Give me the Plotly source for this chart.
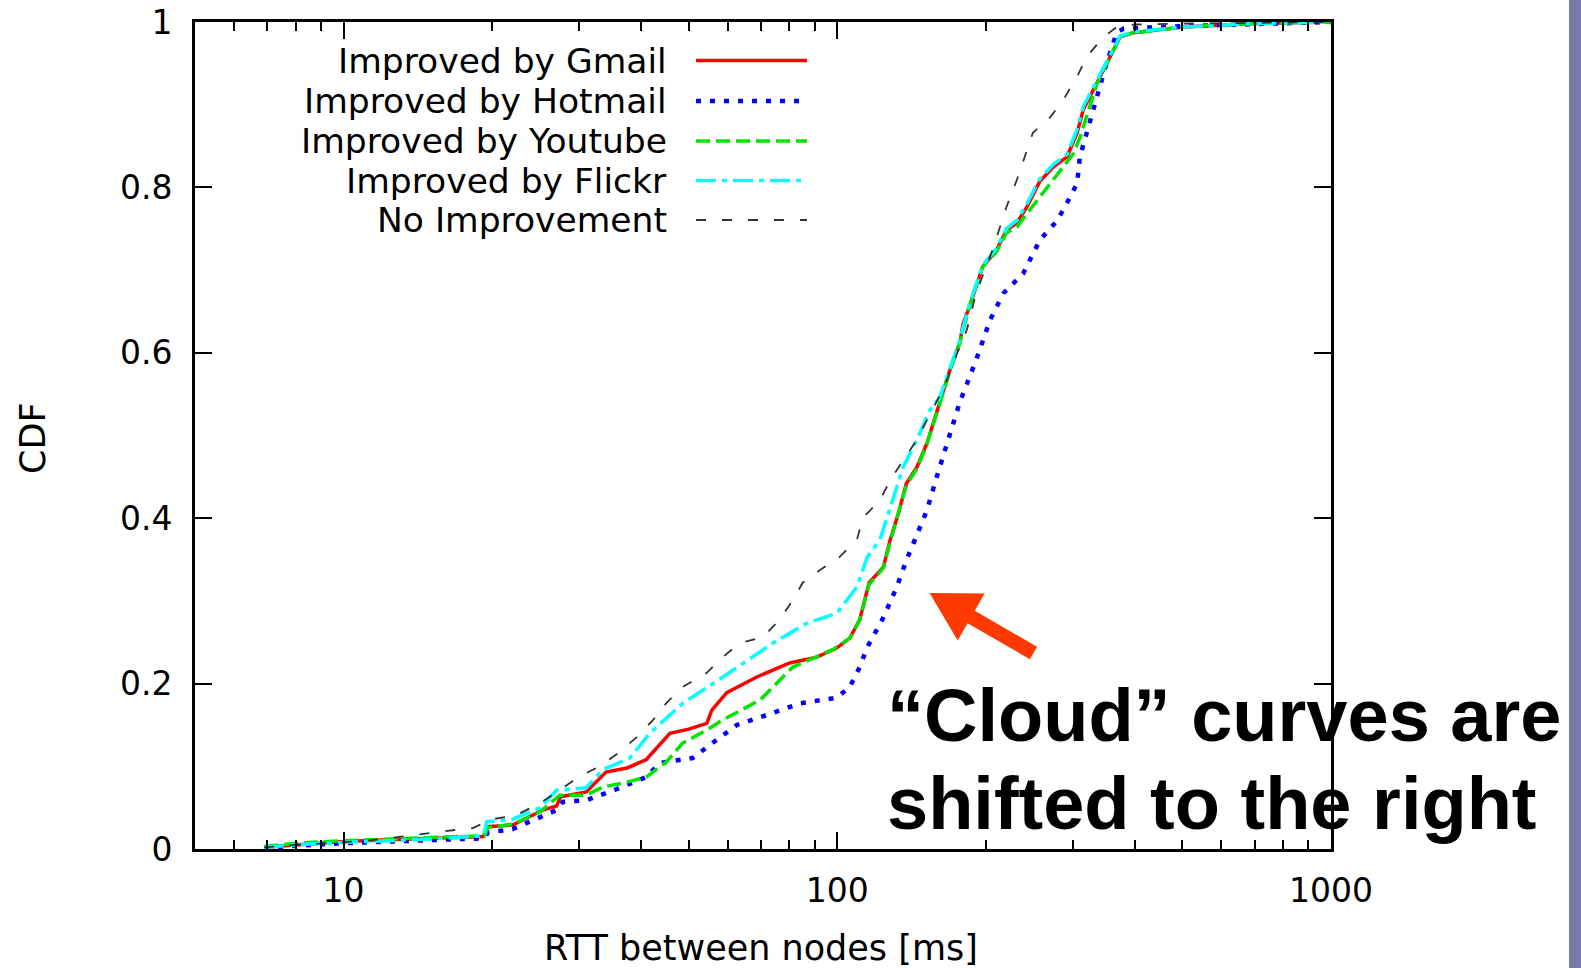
import plotly.graph_objects as go
import math

# ---------------- data ----------------
gmail_x = [6.9, 8, 10, 12, 15, 19.2, 19.5, 22, 25.3, 27, 27.5, 31, 34, 37.5, 41, 45.8, 50, 54.4, 55.7,
           59.7, 68.7, 80.1, 90.9, 99.7, 106, 111, 116, 124, 128, 133, 138, 145, 152, 161, 169, 177,
           180, 185, 197, 210, 220, 231, 242, 257, 274, 292, 306, 315, 336, 357, 374, 397, 502, 685, 1000]
gmail_y = [0.002, 0.005, 0.009, 0.011, 0.013, 0.015, 0.027, 0.029, 0.047, 0.052, 0.063, 0.069, 0.093,
           0.098, 0.108, 0.14, 0.145, 0.152, 0.168, 0.189, 0.208, 0.225, 0.232, 0.243, 0.255, 0.277,
           0.322, 0.341, 0.374, 0.406, 0.442, 0.462, 0.491, 0.539, 0.579, 0.612, 0.636, 0.655, 0.704,
           0.724, 0.748, 0.757, 0.776, 0.807, 0.825, 0.837, 0.866, 0.894, 0.926, 0.958, 0.982, 0.987,
           0.994, 0.998, 1.0]

hotmail_x = [6.9, 8, 10, 12, 15, 19.3, 19.6, 22, 23.8, 27, 27.8, 31, 35.6, 41, 43.7, 48, 50.9, 57,
             62.6, 71.9, 83.9, 99.8, 106, 111, 115, 124, 132, 138, 145, 152, 159, 167, 177, 191, 204,
             217, 238, 257, 279, 296, 306, 310, 320, 330, 341, 351, 368, 380, 500, 700, 1000]
hotmail_y = [0.001, 0.004, 0.007, 0.009, 0.011, 0.013, 0.02, 0.024, 0.033, 0.047, 0.057, 0.059, 0.072,
             0.087, 0.104, 0.108, 0.11, 0.132, 0.15, 0.162, 0.176, 0.183, 0.196, 0.22, 0.244, 0.28,
             0.317, 0.349, 0.382, 0.41, 0.45, 0.49, 0.54, 0.591, 0.64, 0.672, 0.696, 0.736, 0.76,
             0.788, 0.805, 0.837, 0.866, 0.897, 0.926, 0.95, 0.987, 0.992, 0.995, 0.998, 1.0]

youtube_x = [6.9, 8, 10, 12, 15, 19.3, 19.6, 22, 25, 27.4, 31, 33.5, 37, 41, 45, 48.6, 54.4, 58.6,
             69.7, 81.3, 97.9, 106, 111, 116, 124, 128, 133, 138, 145, 152, 161, 169, 177, 185, 197,
             210, 220, 231, 242, 257, 283, 300, 310, 336, 357, 374, 397, 502, 685, 1000]
youtube_y = [0.003, 0.007, 0.01, 0.012, 0.014, 0.016, 0.026, 0.03, 0.045, 0.065, 0.065, 0.075, 0.08,
             0.087, 0.105, 0.128, 0.144, 0.156, 0.18, 0.22, 0.241, 0.255, 0.277, 0.32, 0.34, 0.372,
             0.405, 0.44, 0.46, 0.49, 0.537, 0.578, 0.612, 0.655, 0.704, 0.722, 0.745, 0.752, 0.768,
             0.788, 0.821, 0.84, 0.86, 0.926, 0.958, 0.982, 0.987, 0.994, 0.998, 1.0]

flickr_x = [6.9, 8, 10, 12, 15, 19.2, 19.5, 22, 25, 27, 31, 33.5, 38, 41.7, 48.6, 56, 64.4, 74.1, 86.7,
            99.8, 109.6, 115, 122, 128, 136, 145, 154, 161, 169, 177, 185, 197, 210, 220, 231, 242,
            257, 274, 292, 306, 315, 336, 357, 374, 397, 502, 685, 1000]
flickr_y = [0.002, 0.005, 0.008, 0.01, 0.012, 0.016, 0.033, 0.036, 0.05, 0.071, 0.074, 0.096, 0.11,
            0.14, 0.176, 0.2, 0.225, 0.249, 0.273, 0.285, 0.317, 0.353, 0.374, 0.414, 0.462, 0.495,
            0.531, 0.545, 0.582, 0.615, 0.658, 0.706, 0.726, 0.75, 0.76, 0.78, 0.81, 0.828, 0.84,
            0.87, 0.898, 0.93, 0.96, 0.983, 0.988, 0.994, 0.998, 1.0]

noimp_x = [6.9, 8, 10, 12, 16.2, 18.2, 20, 22.4, 24.9, 27.4, 29.7, 33, 36.2, 39.2, 42.2, 45, 48.6,
           54.4, 58.6, 63.4, 70.6, 76.4, 81.3, 85.1, 92.1, 101, 109.6, 112.6, 122, 128, 136, 145, 152,
           165, 175, 183, 191, 207, 220, 231, 249, 270, 287, 306, 320, 345, 368, 400, 500, 700, 1000]
noimp_y = [0.002, 0.005, 0.008, 0.012, 0.022, 0.025, 0.036, 0.041, 0.055, 0.071, 0.086, 0.1, 0.117,
           0.135, 0.155, 0.176, 0.196, 0.213, 0.232, 0.249, 0.256, 0.277, 0.301, 0.322, 0.337, 0.353,
           0.374, 0.4, 0.422, 0.446, 0.47, 0.495, 0.519, 0.56, 0.6, 0.628, 0.672, 0.727, 0.776, 0.809,
           0.866, 0.885, 0.906, 0.934, 0.958, 0.981, 0.994, 0.997, 0.998, 0.999, 1.0]

series_names = ["Improved by Gmail", "Improved by Hotmail", "Improved by Youtube",
                "Improved by Flickr", "No Improvement"]
series_x = [gmail_x, hotmail_x, youtube_x, flickr_x, noimp_x]
series_y = [gmail_y, hotmail_y, youtube_y, flickr_y, noimp_y]

x_tickvals = [10, 100, 1000]
x_ticktext = ["10", "100", "1000"]
x_minor = [6, 7, 8, 9, 20, 30, 40, 50, 60, 70, 80, 90, 200, 300, 400, 500, 600, 700, 800, 900]
y_tickvals = [0, 0.2, 0.4, 0.6, 0.8, 1]
y_ticktext = ["0", "0.2", "0.4", "0.6", "0.8", "1"]

x_title = "RTT between nodes [ms]"
y_title = "CDF"
note_lines = ["\u201cCloud\u201d curves are", "shifted to the right"]

# ---------------- styles ----------------
colors = ["#ff0000", "#0000ff", "#00e400", "#00ffff", "#333333"]
widths = [3.5, 4.5, 3.5, 3.5, 1.8]
dashes = ["solid", "5px,9px", "14px,6px", "20px,6px,5px,6px", "10px,16px"]

W, H = 1581, 968
PL, PR, PT, PB = 195, 1331, 22, 849   # plot area in pixels


def px(x):
    return (x - PL) / (PR - PL)


def py(y):
    return (PB - y) / (PB - PT)


FONT = "DejaVu Sans"

fig = go.Figure()
for xs, ys, name, c, w, d in zip(series_x, series_y, series_names, colors, widths, dashes):
    assert len(xs) == len(ys), name
    fig.add_trace(go.Scatter(x=xs, y=ys, mode="lines", name=name, showlegend=False,
                             line=dict(color=c, width=w, dash=d)))

shapes = []
annotations = []

# custom gnuplot-style legend (text right-aligned, sample on the right)
leg_rows = [60.5, 101, 141, 180.5, 220]
for name, c, w, d, yr in zip(series_names, colors, widths, dashes, leg_rows):
    annotations.append(dict(xref="paper", yref="paper", x=px(669), y=py(yr), text=name,
                            showarrow=False, xanchor="right", yanchor="middle",
                            font=dict(family=FONT, size=34.5, color="black")))
    shapes.append(dict(type="line", xref="paper", yref="paper", x0=px(696), x1=px(807),
                       y0=py(yr), y1=py(yr), line=dict(color=c, width=w, dash=d)))

# axis titles
annotations.append(dict(xref="paper", yref="paper", x=px(761), y=py(948), text=x_title,
                        showarrow=False, xanchor="center", yanchor="middle",
                        font=dict(family=FONT, size=35, color="black")))
annotations.append(dict(xref="paper", yref="paper", x=px(33), y=py(438), text=y_title,
                        showarrow=False, xanchor="center", yanchor="middle", textangle=-90,
                        font=dict(family=FONT, size=35, color="black")))

# slide note
for txt, yc in zip(note_lines, [715.4, 803.4]):
    annotations.append(dict(xref="paper", yref="paper", x=px(885), y=py(yc), text=txt,
                            showarrow=False, xanchor="left", yanchor="middle",
                            font=dict(family="Liberation Sans", size=74, color="black",
                                      weight="bold")))

# red-orange arrow as a polygon
tip = (929.6, 593.0)
tail = (1033.5, 653.0)
ux, uy = tip[0] - tail[0], tip[1] - tail[1]
L = math.hypot(ux, uy)
ux, uy = ux / L, uy / L
nx, ny = -uy, ux
head_len, head_half, shaft_half = 48, 27, 7.2
bx, by = tip[0] - ux * head_len, tip[1] - uy * head_len
pts = [
    (tail[0] + nx * shaft_half, tail[1] + ny * shaft_half),
    (bx + nx * shaft_half, by + ny * shaft_half),
    (bx + nx * head_half, by + ny * head_half),
    tip,
    (bx - nx * head_half, by - ny * head_half),
    (bx - nx * shaft_half, by - ny * shaft_half),
    (tail[0] - nx * shaft_half, tail[1] - ny * shaft_half),
]
path = "M " + " L ".join(f"{px(a):.5f},{py(b):.5f}" for a, b in pts) + " Z"
shapes.append(dict(type="path", xref="paper", yref="paper", path=path,
                   fillcolor="#ff3a00", line=dict(width=0)))

# slide-frame strip on the right edge
shapes.append(dict(type="rect", xref="paper", yref="paper", x0=px(1569), x1=px(1582),
                   y0=py(969), y1=py(-1), fillcolor="#7a7aaa", line=dict(width=0), layer="below"))

axis_common = dict(showline=True, linecolor="black", linewidth=3, mirror="allticks",
                   ticks="inside", ticklen=17, tickwidth=2, tickcolor="black",
                   showgrid=False, zeroline=False, automargin=False,
                   tickfont=dict(family=FONT, size=33, color="black"))

fig.update_layout(
    width=W, height=H,
    margin=dict(l=PL, r=W - PR, t=PT, b=H - PB, pad=0, autoexpand=False),
    paper_bgcolor="white", plot_bgcolor="white",
    showlegend=False,
    xaxis=dict(type="log", range=[math.log10(5), 3], tickmode="array",
               tickvals=x_tickvals, ticktext=x_ticktext, ticklabelstandoff=10,
               minor=dict(tickmode="array", tickvals=x_minor, ticks="inside", ticklen=9,
                          tickwidth=2, tickcolor="black", showgrid=False),
               **axis_common),
    yaxis=dict(range=[0, 1], tickmode="array", tickvals=y_tickvals, ticktext=y_ticktext,
               ticklabelstandoff=13, **axis_common),
    shapes=shapes,
    annotations=annotations,
)

fig.write_html("out.html")
